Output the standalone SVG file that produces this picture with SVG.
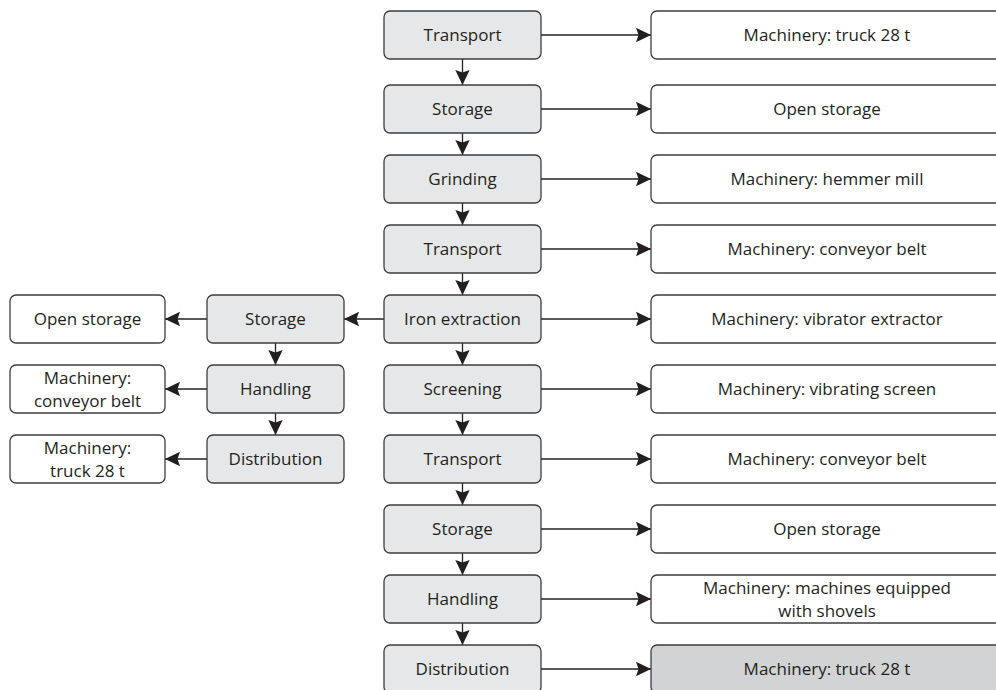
<svg xmlns="http://www.w3.org/2000/svg" width="996" height="690" viewBox="0 0 996 690">
<style>
.n rect{stroke:#3d3d3d;stroke-width:1.3}
.g rect{fill:#e6e7e8}
.w rect{fill:#ffffff}
.d rect{fill:#d1d3d4}
text{font-family:"Open Sans","Liberation Sans",sans-serif;font-size:17px;fill:#231f20;text-anchor:middle}
.c line{stroke:#231f20;stroke-width:1.3;marker-end:url(#ah)}
</style>
<defs>
<marker id="ah" markerUnits="userSpaceOnUse" markerWidth="16" markerHeight="16" refX="15" refY="8" orient="auto">
<path d="M0,0.8 L15,8 L0,15.2 L2.5,8 z" fill="#231f20"/>
</marker>
</defs>
<rect width="996" height="690" fill="#ffffff"/>
<g id="connectors" class="c">
<line x1="541" y1="35" x2="651" y2="35"/>
<line x1="541" y1="109" x2="651" y2="109"/>
<line x1="541" y1="179" x2="651" y2="179"/>
<line x1="541" y1="249" x2="651" y2="249"/>
<line x1="541" y1="319" x2="651" y2="319"/>
<line x1="541" y1="389" x2="651" y2="389"/>
<line x1="541" y1="459" x2="651" y2="459"/>
<line x1="541" y1="529" x2="651" y2="529"/>
<line x1="541" y1="599" x2="651" y2="599"/>
<line x1="541" y1="669" x2="651" y2="669"/>
<line x1="462.5" y1="59" x2="462.5" y2="85"/>
<line x1="462.5" y1="133" x2="462.5" y2="155"/>
<line x1="462.5" y1="203" x2="462.5" y2="225"/>
<line x1="462.5" y1="273" x2="462.5" y2="295"/>
<line x1="462.5" y1="343" x2="462.5" y2="365"/>
<line x1="462.5" y1="413" x2="462.5" y2="435"/>
<line x1="462.5" y1="483" x2="462.5" y2="505"/>
<line x1="462.5" y1="553" x2="462.5" y2="575"/>
<line x1="462.5" y1="623" x2="462.5" y2="645"/>
<line x1="384" y1="319" x2="344" y2="319"/>
<line x1="207" y1="319" x2="165" y2="319"/>
<line x1="207" y1="389" x2="165" y2="389"/>
<line x1="207" y1="459" x2="165" y2="459"/>
<line x1="275.5" y1="343" x2="275.5" y2="365"/>
<line x1="275.5" y1="413" x2="275.5" y2="435"/>
</g>
<g id="c1" class="n g"><rect x="384" y="11" width="157" height="48" rx="6"/><text x="462.5" y="41">Transport</text></g>
<g id="c2" class="n g"><rect x="384" y="85" width="157" height="48" rx="6"/><text x="462.5" y="115">Storage</text></g>
<g id="c3" class="n g"><rect x="384" y="155" width="157" height="48" rx="6"/><text x="462.5" y="185">Grinding</text></g>
<g id="c4" class="n g"><rect x="384" y="225" width="157" height="48" rx="6"/><text x="462.5" y="255">Transport</text></g>
<g id="c5" class="n g"><rect x="384" y="295" width="157" height="48" rx="6"/><text x="462.5" y="325">Iron extraction</text></g>
<g id="c6" class="n g"><rect x="384" y="365" width="157" height="48" rx="6"/><text x="462.5" y="395">Screening</text></g>
<g id="c7" class="n g"><rect x="384" y="435" width="157" height="48" rx="6"/><text x="462.5" y="465">Transport</text></g>
<g id="c8" class="n g"><rect x="384" y="505" width="157" height="48" rx="6"/><text x="462.5" y="535">Storage</text></g>
<g id="c9" class="n g"><rect x="384" y="575" width="157" height="48" rx="6"/><text x="462.5" y="605">Handling</text></g>
<g id="c10" class="n g"><rect x="384" y="645" width="157" height="48" rx="6"/><text x="462.5" y="675">Distribution</text></g>
<g id="r1" class="n w"><rect x="651" y="11" width="360" height="48" rx="6"/><text x="827" y="41">Machinery: truck 28 t</text></g>
<g id="r2" class="n w"><rect x="651" y="85" width="360" height="48" rx="6"/><text x="827" y="115">Open storage</text></g>
<g id="r3" class="n w"><rect x="651" y="155" width="360" height="48" rx="6"/><text x="827" y="185">Machinery: hemmer mill</text></g>
<g id="r4" class="n w"><rect x="651" y="225" width="360" height="48" rx="6"/><text x="827" y="255">Machinery: conveyor belt</text></g>
<g id="r5" class="n w"><rect x="651" y="295" width="360" height="48" rx="6"/><text x="827" y="325">Machinery: vibrator extractor</text></g>
<g id="r6" class="n w"><rect x="651" y="365" width="360" height="48" rx="6"/><text x="827" y="395">Machinery: vibrating screen</text></g>
<g id="r7" class="n w"><rect x="651" y="435" width="360" height="48" rx="6"/><text x="827" y="465">Machinery: conveyor belt</text></g>
<g id="r8" class="n w"><rect x="651" y="505" width="360" height="48" rx="6"/><text x="827" y="535">Open storage</text></g>
<g id="r9" class="n w"><rect x="651" y="575" width="360" height="48" rx="6"/><text x="827" y="593.5">Machinery: machines equipped</text><text x="827" y="616.5">with shovels</text></g>
<g id="r10" class="n d"><rect x="651" y="645" width="360" height="48" rx="6"/><text x="827" y="675">Machinery: truck 28 t</text></g>
<g id="l1" class="n g"><rect x="207" y="295" width="137" height="48" rx="6"/><text x="275.5" y="325">Storage</text></g>
<g id="l2" class="n g"><rect x="207" y="365" width="137" height="48" rx="6"/><text x="275.5" y="395">Handling</text></g>
<g id="l3" class="n g"><rect x="207" y="435" width="137" height="48" rx="6"/><text x="275.5" y="465">Distribution</text></g>
<g id="o1" class="n w"><rect x="10" y="295" width="155" height="48" rx="6"/><text x="87.5" y="325">Open storage</text></g>
<g id="o2" class="n w"><rect x="10" y="365" width="155" height="48" rx="6"/><text x="87.5" y="383.5">Machinery:</text><text x="87.5" y="406.5">conveyor belt</text></g>
<g id="o3" class="n w"><rect x="10" y="435" width="155" height="48" rx="6"/><text x="87.5" y="453.5">Machinery:</text><text x="87.5" y="476.5">truck 28 t</text></g>
</svg>
